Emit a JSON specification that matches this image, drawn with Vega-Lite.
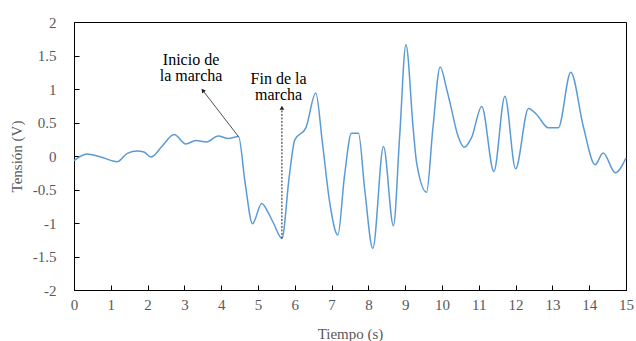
{
  "$schema": "https://vega.github.io/schema/vega-lite/v6.json",
  "width": 552,
  "height": 268,
  "autosize": "none",
  "padding": {"left": 74, "top": 22, "right": 10, "bottom": 51},
  "background": "white",
  "config": {
    "view": {"stroke": "black", "strokeWidth": 1},
    "font": "Liberation Serif",
    "axis": {
      "grid": false,
      "domainColor": "black",
      "tickColor": "black",
      "labelFont": "Liberation Serif",
      "labelFontSize": 15,
      "labelColor": "#595959",
      "titleFont": "Liberation Serif",
      "titleFontSize": 15,
      "titleFontWeight": "normal",
      "titleColor": "#595959"
    },
    "text": {"lineBreak": "\n"}
  },
  "datasets": {
    "signal": [
      {"t": 0.0, "v": -0.07}, {"t": 0.35, "v": 0.03}, {"t": 0.7, "v": -0.01}, {"t": 1.18, "v": -0.085},
      {"t": 1.45, "v": 0.04}, {"t": 1.72, "v": 0.075}, {"t": 1.9, "v": 0.06}, {"t": 2.09, "v": -0.015},
      {"t": 2.4, "v": 0.15}, {"t": 2.72, "v": 0.32}, {"t": 3.04, "v": 0.18}, {"t": 3.31, "v": 0.23},
      {"t": 3.6, "v": 0.21}, {"t": 3.92, "v": 0.3}, {"t": 4.19, "v": 0.26}, {"t": 4.47, "v": 0.29},
      {"t": 4.65, "v": -0.4}, {"t": 4.85, "v": -1.01}, {"t": 5.1, "v": -0.71}, {"t": 5.28, "v": -0.85},
      {"t": 5.42, "v": -1.0}, {"t": 5.65, "v": -1.23}, {"t": 5.85, "v": -0.3}, {"t": 6.0, "v": 0.24},
      {"t": 6.3, "v": 0.42}, {"t": 6.57, "v": 0.94}, {"t": 6.75, "v": 0.2}, {"t": 6.95, "v": -0.7},
      {"t": 7.17, "v": -1.18}, {"t": 7.35, "v": -0.3}, {"t": 7.54, "v": 0.34}, {"t": 7.73, "v": 0.34},
      {"t": 7.9, "v": -0.5}, {"t": 8.12, "v": -1.38}, {"t": 8.41, "v": 0.14}, {"t": 8.68, "v": -1.04},
      {"t": 8.85, "v": 0.3}, {"t": 9.02, "v": 1.66}, {"t": 9.22, "v": 0.39}, {"t": 9.31, "v": -0.1},
      {"t": 9.58, "v": -0.54}, {"t": 9.75, "v": 0.4}, {"t": 9.95, "v": 1.33}, {"t": 10.13, "v": 0.99},
      {"t": 10.22, "v": 0.79}, {"t": 10.44, "v": 0.29}, {"t": 10.6, "v": 0.13}, {"t": 10.8, "v": 0.27},
      {"t": 11.08, "v": 0.74}, {"t": 11.41, "v": -0.23}, {"t": 11.71, "v": 0.89}, {"t": 12.0, "v": -0.19},
      {"t": 12.35, "v": 0.71}, {"t": 12.57, "v": 0.62}, {"t": 12.89, "v": 0.42}, {"t": 13.16, "v": 0.42},
      {"t": 13.5, "v": 1.25}, {"t": 13.84, "v": 0.44}, {"t": 14.16, "v": -0.13}, {"t": 14.38, "v": 0.045},
      {"t": 14.71, "v": -0.25}, {"t": 15.0, "v": -0.03}
    ],
    "inicio": [{"t": 4.47, "v": 0.29, "t2": 3.5, "v2": 0.98}],
    "fin": [{"t": 5.65, "v": -1.23, "t2": 5.65, "v2": 0.72}],
    "labels": [
      {"t": 3.18, "v": 1.36, "label": "Inicio de\nla marcha"},
      {"t": 5.56, "v": 1.08, "label": "Fin de la\nmarcha"}
    ]
  },
  "encoding": {
    "x": {
      "field": "t", "type": "quantitative", "title": "Tiempo (s)",
      "scale": {"domain": [0, 15], "nice": false},
      "axis": {"values": [0,1,2,3,4,5,6,7,8,9,10,11,12,13,14,15], "labelExpr": "toString(datum.value)", "labelOverlap": false, "tickSize": -5, "labelPadding": 12, "titlePadding": 14, "labelFlush": false}
    },
    "y": {
      "field": "v", "type": "quantitative", "title": "Tensión (V)",
      "scale": {"domain": [-2, 2], "nice": false},
      "axis": {"values": [-2,-1.5,-1,-0.5,0,0.5,1,1.5,2], "labelExpr": "toString(datum.value)", "labelOverlap": false, "tickSize": -5, "labelPadding": 23, "titlePadding": 8, "labelFlush": false}
    }
  },
  "layer": [
    {
      "data": {"name": "signal"},
      "mark": {"type": "line", "interpolate": "monotone", "color": "#5B9BD5", "strokeWidth": 1.5}
    },
    {
      "data": {"name": "inicio"},
      "mark": {"type": "rule", "color": "#222222", "strokeWidth": 0.8},
      "encoding": {
        "x2": {"field": "t2"},
        "y2": {"field": "v2"}
      }
    },
    {
      "data": {"name": "inicio"},
      "mark": {"type": "point", "shape": "triangle-up", "filled": true, "color": "#222222", "size": 22, "angle": 322, "opacity": 1},
      "encoding": {
        "x": {"field": "t2", "type": "quantitative"},
        "y": {"field": "v2", "type": "quantitative"}
      }
    },
    {
      "data": {"name": "fin"},
      "mark": {"type": "rule", "color": "#222222", "strokeWidth": 1, "strokeDash": [2, 1.5]},
      "encoding": {
        "x2": {"field": "t2"},
        "y2": {"field": "v2"}
      }
    },
    {
      "data": {"name": "fin"},
      "mark": {"type": "point", "shape": "triangle-up", "filled": true, "color": "#222222", "size": 22, "opacity": 1},
      "encoding": {
        "x": {"field": "t2", "type": "quantitative"},
        "y": {"field": "v2", "type": "quantitative"}
      }
    },
    {
      "data": {"name": "labels"},
      "mark": {"type": "text", "font": "Liberation Serif", "fontSize": 16, "lineHeight": 16, "align": "center", "baseline": "alphabetic", "color": "black"},
      "encoding": {
        "text": {"field": "label"}
      }
    }
  ]
}
